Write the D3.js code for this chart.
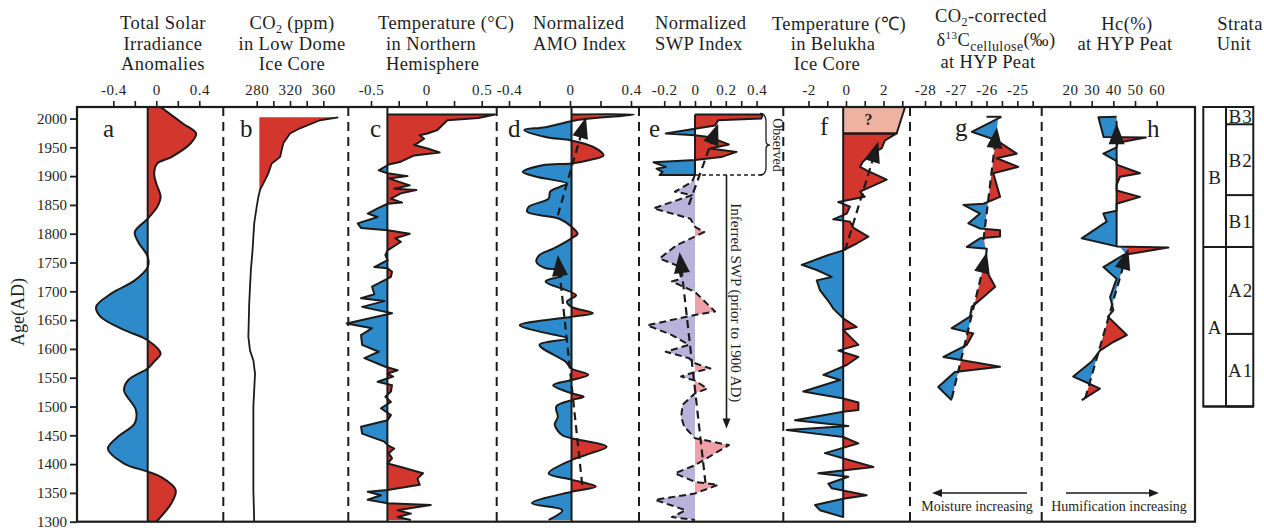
<!DOCTYPE html>
<html>
<head>
<meta charset="utf-8">
<script src="https://cdn.jsdelivr.net/npm/d3@7"></script>
<style>
body { margin: 0; background: #fff; }
svg text { font-family: "Liberation Serif", "Times New Roman", serif; fill: #1e1e1e; }
</style>
</head>
<body>
<div id="chart"></div>
<script>
// ---- data: [year AD, value] ----
var aSolar = [[2020,0.04],[1991,0.25],[1974,0.37],[1957,0.32],[1933,0.14],[1922,0.01],[1905,-0.02],[1887,0.0],[1864,0.04],[1847,0.01],[1826,-0.08],[1803,-0.2],[1786,-0.17],[1760,-0.08],[1742,-0.08],[1719,-0.2],[1696,-0.42],[1673,-0.56],[1656,-0.52],[1633,-0.30],[1615,-0.08],[1592,0.04],[1578,-0.02],[1566,-0.08],[1546,-0.26],[1528,-0.30],[1494,-0.19],[1471,-0.2],[1447,-0.36],[1427,-0.45],[1401,-0.30],[1387,-0.08],[1378,0.04],[1355,0.18],[1332,0.14],[1300,0.0]];
var bCO2 = [[2002,378],[1997,356],[1983,332],[1974,320],[1957,312],[1933,308],[1922,298],[1905,294],[1893,290],[1876,284],[1864,282],[1847,280],[1818,277],[1771,275],[1737,273],[1679,271],[1621,270],[1597,272],[1580,276],[1557,278],[1500,276],[1430,276],[1355,276],[1300,277]];
var cTempNH = [[2007,-0.352],[2007,0.62],[2001,0.47],[1997,0.19],[1980,0.10],[1974,0.01],[1971,-0.06],[1965,-0.02],[1957,-0.08],[1954,-0.11],[1948,0.01],[1941,0.12],[1936,-0.11],[1925,-0.23],[1920,-0.34],[1910,-0.43],[1905,-0.35],[1900,-0.17],[1896,-0.34],[1884,-0.15],[1878,-0.29],[1876,-0.09],[1870,-0.23],[1861,-0.32],[1854,-0.22],[1852,-0.35],[1844,-0.44],[1835,-0.53],[1829,-0.44],[1818,-0.62],[1810,-0.59],[1806,-0.35],[1800,-0.15],[1792,-0.28],[1786,-0.23],[1771,-0.35],[1763,-0.37],[1754,-0.35],[1742,-0.47],[1740,-0.35],[1734,-0.31],[1725,-0.32],[1722,-0.35],[1708,-0.49],[1695,-0.47],[1688,-0.59],[1683,-0.38],[1673,-0.58],[1662,-0.31],[1644,-0.72],[1636,-0.49],[1624,-0.59],[1607,-0.58],[1595,-0.43],[1584,-0.56],[1569,-0.37],[1563,-0.26],[1557,-0.35],[1552,-0.30],[1543,-0.44],[1537,-0.31],[1526,-0.32],[1517,-0.37],[1508,-0.32],[1497,-0.41],[1485,-0.32],[1476,-0.35],[1465,-0.59],[1453,-0.58],[1439,-0.38],[1433,-0.35],[1427,-0.29],[1419,-0.34],[1410,-0.31],[1401,-0.35],[1395,-0.23],[1384,-0.03],[1375,-0.08],[1364,-0.06],[1355,-0.35],[1352,-0.53],[1346,-0.41],[1338,-0.53],[1332,-0.35],[1329,0.04],[1320,-0.26],[1314,-0.14],[1308,-0.26],[1303,-0.14]];
var dAMO = [[2007,0.01],[2007,0.42],[1997,0.04],[1985,-0.16],[1980,-0.30],[1968,-0.16],[1962,0.01],[1951,0.15],[1936,0.22],[1928,0.13],[1922,0.01],[1919,-0.18],[1907,-0.31],[1899,-0.22],[1887,-0.02],[1881,-0.07],[1873,-0.13],[1861,-0.14],[1847,-0.27],[1838,-0.28],[1826,-0.07],[1812,0.01],[1800,0.05],[1792,0.01],[1774,-0.11],[1763,-0.20],[1751,-0.22],[1740,-0.16],[1737,-0.07],[1728,-0.05],[1717,-0.16],[1693,0.04],[1682,-0.02],[1673,0.01],[1662,0.15],[1656,0.01],[1641,-0.33],[1630,-0.20],[1618,-0.02],[1607,-0.20],[1578,-0.03],[1566,0.01],[1555,0.12],[1546,0.01],[1537,-0.11],[1523,0.01],[1517,0.09],[1511,0.01],[1500,-0.09],[1482,-0.08],[1468,-0.10],[1450,-0.05],[1445,0.01],[1430,0.24],[1419,0.14],[1407,0.01],[1384,-0.14],[1373,0.01],[1361,0.17],[1352,0.01],[1332,-0.25],[1320,-0.05],[1303,-0.14]];
var eSWPobs = [[2007,0],[2007,0.44],[2000,0.43],[1997,0.15],[1988,0.13],[1974,-0.19],[1971,0],[1968,0.09],[1955,0.22],[1948,0.10],[1942,0.27],[1933,0.17],[1928,0],[1924,-0.27],[1916,-0.19],[1913,-0.25],[1907,-0.21],[1902,-0.23],[1902,0]];
var eSWPinf = [[1902,0],[1890,-0.02],[1873,-0.13],[1867,-0.02],[1844,-0.27],[1826,-0.03],[1812,0],[1803,0.06],[1795,0],[1780,-0.12],[1757,-0.23],[1745,-0.12],[1735,-0.10],[1722,-0.09],[1717,-0.15],[1699,0],[1665,0.13],[1659,0],[1641,-0.31],[1624,-0.15],[1607,-0.04],[1595,-0.19],[1584,-0.04],[1575,0],[1566,0.10],[1560,0],[1552,-0.09],[1545,0],[1531,0.08],[1523,0],[1503,-0.08],[1482,-0.09],[1465,-0.07],[1445,0],[1433,0.22],[1398,0],[1384,-0.13],[1369,0],[1364,0.15],[1349,0],[1338,-0.26],[1320,-0.06],[1308,-0.15],[1303,0]];
var fTopUnknown = [[2020,3.15],[1974,2.7]];
var fBelukha = [[1974,-0.15],[1974,2.7],[1962,2.08],[1948,1.9],[1940,1.4],[1925,0.9],[1916,0.75],[1910,1.1],[1894,2.17],[1873,0.75],[1864,1.0],[1855,-0.41],[1847,0.21],[1835,0.04],[1825,-0.68],[1821,0.21],[1810,0.4],[1795,1.19],[1783,0.57],[1771,-0.15],[1763,-0.94],[1746,-2.36],[1737,-1.56],[1725,-0.76],[1719,-1.56],[1702,-1.39],[1679,-0.85],[1670,-0.68],[1653,-0.15],[1638,0.57],[1633,-0.15],[1607,0.66],[1597,-0.41],[1586,0.66],[1572,0.04],[1555,-1.21],[1546,-0.32],[1526,-2.28],[1514,-0.15],[1507,0.66],[1494,0.66],[1491,-0.15],[1476,-2.72],[1466,0.12],[1459,-3.16],[1447,-0.15],[1436,0.66],[1419,-1.12],[1395,1.46],[1384,-1.48],[1378,0.12],[1366,-0.94],[1358,-0.76],[1346,1.1],[1340,-0.15],[1329,-1.65],[1320,-1.39],[1308,-0.15]];
var gD13C = [[2003,-25.52],[1977,-26.48],[1962,-25.67],[1939,-25.02],[1931,-25.67],[1916,-24.97],[1905,-25.78],[1864,-25.56],[1852,-26.1],[1850,-26.75],[1835,-26.21],[1818,-26.59],[1809,-26.21],[1806,-25.56],[1795,-25.56],[1792,-26.21],[1777,-26.64],[1774,-25.99],[1740,-26.05],[1708,-25.72],[1690,-26.1],[1673,-26.48],[1656,-26.54],[1636,-27.13],[1627,-26.43],[1607,-26.64],[1586,-27.4],[1569,-25.56],[1560,-27.03],[1534,-27.57],[1511,-27.13]];
var hHc = [[2003,41.5],[2002,33.1],[1968,35.5],[1967,55],[1958,42],[1950,41.5],[1939,35.4],[1926,41.5],[1920,41.5],[1905,52.3],[1899,43.1],[1885,41.5],[1875,41.5],[1864,52.3],[1852,41.5],[1840,41.5],[1835,35.4],[1821,36.9],[1792,25.4],[1778,41.5],[1776,65.4],[1763,44.6],[1742,35.4],[1722,41.5],[1690,38.5],[1667,40.0],[1656,37.5],[1624,46.2],[1612,40],[1597,33.8],[1578,30.0],[1552,21.5],[1543,26.9],[1531,33.8],[1511,25.4]];

// reference lines the fills are drawn against
var gBase = [[1500,-27.19],[1768,-25.99],[1789,-26.1],[2010,-25.6]];
var hBase = [[1500,25.9],[1774,46.9],[1777,41.5],[2010,41.5]];

// dashed trend arrows
var dTrends = [[[1364,0.08],[1763,-0.08]], [[1832,-0.08],[2002,0.105]]];
var eTrends = [[[1367,0.068],[1768,-0.10]], [[1850,-0.04],[1991,0.15]]];
var fTrends = [[[1771,-0.05],[1960,1.72]]];
var gTrends = [[[1514,-27.13],[1768,-25.99]], [[1789,-26.1],[1985,-25.66]]];
var hTrends = [[[1514,27.0],[1774,46.9]]];

// strata units
var strataOuter = [{name:"B", top:2020, bottom:1777}, {name:"A", top:1777, bottom:1500}];
var strataInner = [{name:"B3", top:2020, bottom:1990}, {name:"B2", top:1990, bottom:1867}, {name:"B1", top:1867, bottom:1777}, {name:"A2", top:1777, bottom:1626}, {name:"A1", top:1626, bottom:1500}];

var ageTicks = d3.range(1300, 2001, 50);

var RED = "#d2362c", BLUE = "#2e8bcb", LAV = "#b9b3db", PINK = "#efa0a9", SALMON = "#efb2a0", INK = "#1b1b1b";

var svg = d3.select("#chart").append("svg").attr("width", 1264).attr("height", 532);
var defs = svg.append("defs");
var yTop = 107, yBot = 521.7;
var y = d3.scaleLinear().domain([1300, 2020]).range([yBot, yTop]);

// x scales for each panel
var xa = d3.scaleLinear().domain([-0.4, 0.4]).range([113.3, 199.3]);
var xb = d3.scaleLinear().domain([280, 360]).range([256.7, 323.3]);
var xc = d3.scaleLinear().domain([-0.5, 0.5]).range([371, 481.7]);
var xd = d3.scaleLinear().domain([-0.4, 0.4]).range([509, 631]);
var xe = d3.scaleLinear().domain([-0.2, 0.4]).range([664.2, 756.6]);
var xf = d3.scaleLinear().domain([-2, 2]).range([808.5, 883.5]);
var xg = d3.scaleLinear().domain([-28, -25]).range([925, 1017.3]);
var xh = d3.scaleLinear().domain([20, 60]).range([1070, 1156.7]);

function baseFn(knots) {
	var ks = knots.slice().sort(function(a, b) { return a[0] - b[0]; });
	return function(yr) {
		if (yr <= ks[0][0]) return ks[0][1];
		if (yr >= ks[ks.length - 1][0]) return ks[ks.length - 1][1];
		for (var i = 1; i < ks.length; i++) {
			if (yr <= ks[i][0]) {
				var t = (yr - ks[i - 1][0]) / (ks[i][0] - ks[i - 1][0]);
				return ks[i - 1][1] + t * (ks[i][1] - ks[i - 1][1]);
			}
		}
	};
}

// fill between curve and reference line, split by side
function fillPanel(id, data, x, knots, curve, colL, colR, xl, xr) {
	var bf = baseFn(knots);
	var area = d3.area()
		.y(function(d) { return y(d[0]); })
		.x0(function(d) { return x(bf(d[0])); })
		.x1(function(d) { return x(d[1]); })
		.curve(curve);
	var yrs = [2020].concat(knots.map(function(d) { return d[0]; })
		.filter(function(v) { return v < 2020 && v > 1300; })
		.sort(function(a, b) { return b - a; })).concat([1300]);
	var bpts = yrs.map(function(v) { return [x(bf(v)), y(v)]; });
	[[colL, xl, "L"], [colR, xr, "R"]].forEach(function(s) {
		if (!s[0]) return;
		var poly = [[s[1], y(2020)]].concat(bpts).concat([[s[1], y(1300)]]);
		defs.append("clipPath").attr("id", id + s[2])
			.append("path").attr("d", d3.line()(poly) + "Z");
		svg.append("path").datum(data)
			.attr("d", area)
			.attr("fill", s[0])
			.attr("clip-path", "url(#" + id + s[2] + ")");
	});
}

function outline(data, x, curve, dash, w) {
	var line = d3.line()
		.y(function(d) { return y(d[0]); })
		.x(function(d) { return x(d[1]); })
		.curve(curve);
	svg.append("path").datum(data)
		.attr("d", line)
		.attr("fill", "none")
		.attr("stroke", INK)
		.attr("stroke-width", w || 2)
		.attr("stroke-linejoin", "round")
		.attr("stroke-dasharray", dash || null);
}

function vline(x, v, y0, y1, dash, w) {
	svg.append("line")
		.attr("x1", x(v)).attr("x2", x(v))
		.attr("y1", y(y0)).attr("y2", y(y1))
		.attr("stroke", INK).attr("stroke-width", w || 2)
		.attr("stroke-dasharray", dash || null);
}

function arrowHead(p0, p1, len, hw) {
	var dx = p1[0] - p0[0], dy = p1[1] - p0[1];
	var L = Math.sqrt(dx * dx + dy * dy);
	var ux = dx / L, uy = dy / L;
	var bx = p1[0] - ux * len, by = p1[1] - uy * len;
	var pts = [p1, [bx - uy * hw, by + ux * hw], [bx + uy * hw, by - ux * hw]];
	svg.append("path").attr("d", d3.line()(pts) + "Z").attr("fill", INK);
}

function trends(list, x) {
	list.forEach(function(t) {
		var p = t.map(function(d) { return [x(d[1]), y(d[0])]; });
		var dx = p[1][0] - p[0][0], dy = p[1][1] - p[0][1];
		var L = Math.sqrt(dx * dx + dy * dy);
		var end = [p[1][0] - dx / L * 14, p[1][1] - dy / L * 14];
		svg.append("path").attr("d", d3.line()([p[0], end]))
			.attr("stroke", INK).attr("stroke-width", 2.2)
			.attr("stroke-dasharray", "8,5").attr("fill", "none");
		arrowHead(p[0], p[1], 21, 8);
	});
}

function topAxis(x, ticks, labels) {
	var g = svg.append("g").attr("transform", "translate(0," + yTop + ")")
		.call(d3.axisTop(x).tickValues(ticks).tickSize(6).tickPadding(6)
			.tickFormat(function(d) { return labels.indexOf(d) >= 0 ? String(d) : ""; }));
	g.select(".domain").remove();
	g.selectAll("line").attr("stroke", INK).attr("stroke-width", 1.6);
	g.attr("font-family", null).attr("font-size", null);
	g.selectAll("text").style("font-size", "15px").style("letter-spacing", "0.5px").attr("fill", INK);
}

// ---- panel a ----
fillPanel("a", aSolar, xa, [[2020,-0.08],[1300,-0.08]], d3.curveCatmullRom, BLUE, RED, 77, 223);
outline(aSolar, xa, d3.curveCatmullRom);
vline(xa, -0.08, 1300, 2020);

// ---- panel b (only the part right of 283 ppm is shaded) ----
fillPanel("b", bCO2.filter(function(d) { return d[0] >= 1864; }), xb, [[2020,283],[1300,283]], d3.curveLinear, null, RED, 224, 348);
outline(bCO2, xb, d3.curveLinear, null, 1.8);

// ---- panel c ----
fillPanel("c", cTempNH, xc, [[2020,-0.352],[1300,-0.352]], d3.curveLinear, BLUE, RED, 349, 496);
outline(cTempNH, xc, d3.curveLinear);
vline(xc, -0.352, 1300, 2020);

// ---- panel d ----
fillPanel("d", dAMO, xd, [[2020,0.01],[1300,0.01]], d3.curveCatmullRom, BLUE, RED, 497, 638);
outline(dAMO, xd, d3.curveCatmullRom);
vline(xd, 0.01, 1300, 2020);
trends(dTrends, xd);

// ---- panel e ----
fillPanel("e1", eSWPobs, xe, [[2020,0],[1300,0]], d3.curveLinear, BLUE, RED, 640, 782);
fillPanel("e2", eSWPinf, xe, [[2020,0],[1300,0]], d3.curveLinear, LAV, PINK, 640, 782);
outline(eSWPobs, xe, d3.curveLinear);
outline(eSWPinf, xe, d3.curveLinear, "7,4", 2);
vline(xe, 0, 1902, 2007);
trends(eTrends, xe);

// observed box and inferred arrow
svg.append("line").attr("x1", xe(0)).attr("x2", 764).attr("y1", y(1902)).attr("y2", y(1902))
	.attr("stroke", INK).attr("stroke-width", 1.4).attr("stroke-dasharray", "4,3");
svg.append("path")
	.attr("d", "M760," + (y(2007) - 1) + " Q766," + (y(2007) - 1) + " 766," + (y(2007) + 8) +
		" L766," + (y(1954) - 4) + " Q766," + y(1954) + " 770," + y(1954) +
		" Q766," + y(1954) + " 766," + (y(1954) + 4) +
		" L766," + (y(1902) - 8) + " Q766," + y(1902) + " 760," + y(1902))
	.attr("fill", "none").attr("stroke", INK).attr("stroke-width", 1.3);
svg.append("text").attr("transform", "translate(773," + y(1954) + ") rotate(90)")
	.attr("text-anchor", "middle").style("font-size", "14px").text("Observed");
svg.append("line").attr("x1", 726.5).attr("x2", 726.5).attr("y1", y(1902)).attr("y2", y(1472))
	.attr("stroke", INK).attr("stroke-width", 1.6);
arrowHead([726.5, y(1500)], [726.5, y(1462)], 10, 4);
svg.append("text").attr("transform", "translate(731," + y(1680) + ") rotate(90)")
	.attr("text-anchor", "middle").style("font-size", "15px").text("Inferred SWP (prior to 1900 AD)");

// ---- panel f ----
fillPanel("f0", fTopUnknown, xf, [[2020,-0.15],[1300,-0.15]], d3.curveLinear, null, SALMON, 784, 909);
fillPanel("f", fBelukha, xf, [[2020,-0.15],[1300,-0.15]], d3.curveLinear, BLUE, RED, 784, 909);
outline([[2020,3.15],[1974,2.7],[1974,-0.15]], xf, d3.curveLinear);
outline(fBelukha, xf, d3.curveLinear);
vline(xf, -0.15, 1307, 2020);
trends(fTrends, xf);
svg.append("text").attr("x", xf(1.2)).attr("y", y(1989))
	.attr("text-anchor", "middle").style("font-size", "16px").style("font-weight", "bold").text("?");

// ---- panel g ----
fillPanel("g", gD13C, xg, gBase, d3.curveLinear, BLUE, RED, 911, 1041);
outline(gD13C, xg, d3.curveLinear);
svg.append("line").attr("x1", xg(-25.52)).attr("x2", xg(-26.0)).attr("y1", y(2003)).attr("y2", y(2003))
	.attr("stroke", INK).attr("stroke-width", 2);
trends(gTrends, xg);

// ---- panel h ----
fillPanel("h", hHc, xh, hBase, d3.curveLinear, BLUE, RED, 1042, 1194);
outline(hHc, xh, d3.curveLinear);
vline(xh, 41.5, 1777, 1996);
arrowHead([xh(41.5), y(1960)], [xh(41.5), y(1992)], 21, 8);
trends(hTrends, xh);

// ---- frame, dividers ----
svg.append("rect").attr("x", 77).attr("y", yTop).attr("width", 1118).attr("height", yBot - yTop)
	.attr("fill", "none").attr("stroke", INK).attr("stroke-width", 2.2);
[223.3, 348.3, 496.7, 639, 783.3, 910, 1041.7].forEach(function(xv) {
	svg.append("line").attr("x1", xv).attr("x2", xv).attr("y1", yTop).attr("y2", yBot + 4)
		.attr("stroke", INK).attr("stroke-width", 2).attr("stroke-dasharray", "9,6");
});

// ---- top axes ----
topAxis(xa, [-0.4, -0.2, 0, 0.2, 0.4], [-0.4, 0, 0.4]);
topAxis(xb, [280, 300, 320, 340, 360], [280, 320, 360]);
topAxis(xc, [-0.5, -0.25, 0, 0.25, 0.5], [-0.5, 0, 0.5]);
topAxis(xd, [-0.4, -0.2, 0, 0.2, 0.4], [-0.4, 0, 0.4]);
topAxis(xe, [-0.2, -0.1, 0, 0.1, 0.2, 0.3, 0.4], [-0.2, 0, 0.2, 0.4]);
topAxis(xf, [-2, -1, 0, 1, 2, 3], [-2, 0, 2]);
topAxis(xg, d3.range(-28, -24.4, 0.5), [-28, -27, -26, -25]);
topAxis(xh, [20, 30, 40, 50, 60], [20, 30, 40, 50, 60]);

// ---- age axis ----
var ga = svg.append("g").attr("transform", "translate(77,0)")
	.call(d3.axisLeft(y).tickValues(ageTicks).tickSize(7).tickPadding(3).tickFormat(d3.format("d")));
ga.select(".domain").remove();
ga.selectAll("line").attr("stroke", INK).attr("stroke-width", 1.8);
ga.attr("font-family", null).attr("font-size", null);
ga.selectAll("text").style("font-size", "15px").attr("fill", INK);
svg.append("text").attr("transform", "translate(24,312) rotate(-90)")
	.attr("text-anchor", "middle").style("font-size", "18px").text("Age(AD)");

// ---- panel letters ----
[["a",103,137],["b",240,137],["c",370,137],["d",508,137],["e",649,137],["f",820,135],["g",955,136],["h",1147,137]].forEach(function(l) {
	svg.append("text").attr("x", l[1]).attr("y", l[2]).style("font-size", "25px").text(l[0]);
});

// ---- titles ----
function title(lines) {
	lines.forEach(function(l) {
		var t = svg.append("text").attr("x", l[1]).attr("y", l[2])
			.attr("text-anchor", l[3] || "middle").style("font-size", "18.5px").style("letter-spacing", "0.4px");
		if (typeof l[0] === "string") t.text(l[0]);
		else l[0](t);
	});
}
title([["Total Solar",163,29],["Irradiance",163,50],["Anomalies",163,70]]);
title([[function(t) {
	t.append("tspan").text("CO");
	t.append("tspan").attr("dy", 4).style("font-size", "12px").text("2");
	t.append("tspan").attr("dy", -4).text(" (ppm)");
}, 292, 29], ["in  Low Dome",292,50], ["Ice Core",292,70]]);
title([["Temperature (°C)",378,29,"start"],["in  Northern",386,50,"start"],["Hemisphere",386,70,"start"]]);
title([["Normalized",533,29,"start"],["AMO Index",533,50,"start"]]);
title([["Normalized",655,29,"start"],["SWP Index",655,50,"start"]]);
title([["Temperature (℃)",839,30],["in Belukha",833,50],["Ice Core",827,70]]);
title([[function(t) {
	t.append("tspan").text("CO");
	t.append("tspan").attr("dy", 4).style("font-size", "12px").text("2");
	t.append("tspan").attr("dy", -4).text("-corrected");
}, 991, 22], [function(t) {
	t.append("tspan").text("δ");
	t.append("tspan").attr("dy", -7).style("font-size", "11px").text("13");
	t.append("tspan").attr("dy", 7).text("C");
	t.append("tspan").attr("dy", 5).style("font-size", "14px").text("cellulose");
	t.append("tspan").attr("dy", -5).text("(‰)");
}, 996, 46], ["at HYP Peat",988,68]]);
title([["Hc(%)",1127,30],["at HYP Peat",1125,50]]);
title([["Strata",1240,30],["Unit",1234,50]]);

// ---- bottom notes ----
svg.append("line").attr("x1", 1027).attr("x2", 940).attr("y1", 493).attr("y2", 493).attr("stroke", INK).attr("stroke-width", 1.6);
arrowHead([1000, 493], [932, 493], 10, 4);
svg.append("text").attr("x", 977).attr("y", 511).attr("text-anchor", "middle").style("font-size", "14px").text("Moisture increasing");
svg.append("line").attr("x1", 1066).attr("x2", 1150).attr("y1", 493).attr("y2", 493).attr("stroke", INK).attr("stroke-width", 1.6);
arrowHead([1100, 493], [1159, 493], 10, 4);
svg.append("text").attr("x", 1119).attr("y", 511).attr("text-anchor", "middle").style("font-size", "14px").text("Humification increasing");

// ---- strata column ----
var sx0 = 1203.3, sx1 = 1226, sx2 = 1253.3;
svg.append("rect").attr("x", sx0).attr("y", y(2020)).attr("width", sx2 - sx0).attr("height", y(1500) - y(2020))
	.attr("fill", "none").attr("stroke", INK).attr("stroke-width", 2);
svg.append("line").attr("x1", sx1).attr("x2", sx1).attr("y1", y(2020)).attr("y2", y(1500)).attr("stroke", INK).attr("stroke-width", 2);
strataOuter.forEach(function(s) {
	svg.append("line").attr("x1", sx0).attr("x2", sx2).attr("y1", y(s.bottom)).attr("y2", y(s.bottom)).attr("stroke", INK).attr("stroke-width", 2);
	svg.append("text").attr("x", (sx0 + sx1) / 2).attr("y", (y(s.top) + y(s.bottom)) / 2 + 7)
		.attr("text-anchor", "middle").style("font-size", "19px").text(s.name);
});
strataInner.forEach(function(s) {
	svg.append("line").attr("x1", sx1).attr("x2", sx2).attr("y1", y(s.bottom)).attr("y2", y(s.bottom)).attr("stroke", INK).attr("stroke-width", 2);
	svg.append("text").attr("x", (sx1 + sx2) / 2 + 1).attr("y", (y(s.top) + y(s.bottom)) / 2 + 7)
		.attr("text-anchor", "middle").style("font-size", "19px").style("letter-spacing", "1px").text(s.name);
});
</script>
</body>
</html>
